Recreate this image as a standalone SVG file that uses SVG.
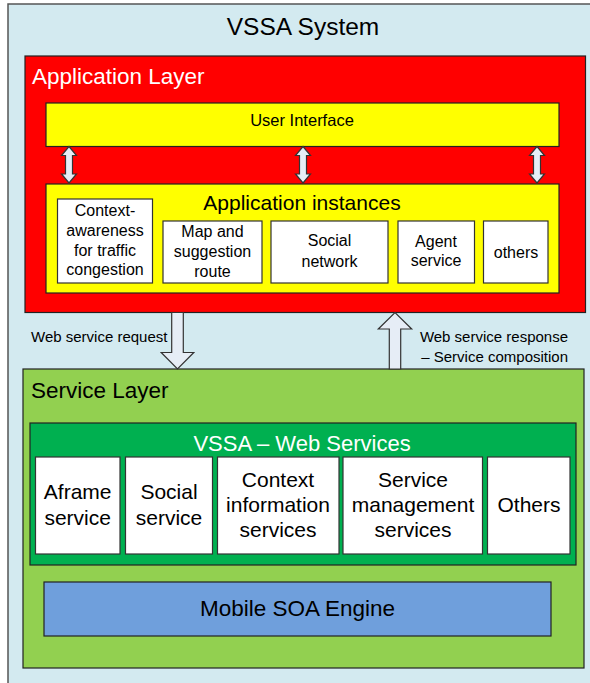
<svg xmlns="http://www.w3.org/2000/svg" width="590" height="683" viewBox="0 0 590 683">
<style>
text{font-family:"Liberation Sans",Arial,sans-serif;fill:#000}
.c{text-anchor:middle}
.box{stroke:#222;stroke-width:1.2}
.wbox{fill:#fff;stroke:#333;stroke-width:1.2}
.arr{fill:#e6edf6;stroke:#333;stroke-width:1.2;stroke-linejoin:miter}
.s16{font-size:16px}
.s21{font-size:21px}
.w{fill:#fff}
</style>
<g id="system">
<rect x="8" y="4" width="600" height="700" fill="#d3eaf0" stroke="#555" stroke-width="1.5"/>
<text class="c" x="303" y="35" font-size="24.5">VSSA System</text>
</g>
<g id="application-layer">
<rect class="box" x="25" y="56" width="560.5" height="256.5" fill="#ff0000"/>
<text class="w" x="32" y="84" font-size="22.5">Application Layer</text>
</g>
<g id="user-interface">
<rect class="box" x="46" y="103" width="513" height="43.5" fill="#ffff00"/>
<text class="c" x="302" y="126" font-size="16.5">User Interface</text>
</g>
<g id="application-instances">
<rect class="box" x="46" y="184" width="513" height="109" fill="#ffff00"/>
<text class="c" x="302" y="210" font-size="21">Application instances</text>
</g>
<g id="app-context">
<rect class="wbox" x="57.5" y="199" width="95" height="84"/>
<text class="c s16" x="105" y="216">Context-</text>
<text class="c s16" x="105" y="236">awareness</text>
<text class="c s16" x="105" y="256">for traffic</text>
<text class="c s16" x="105" y="275">congestion</text>
</g>
<g id="app-map">
<rect class="wbox" x="163" y="221" width="99" height="62"/>
<text class="c s16" x="212.5" y="237">Map and</text>
<text class="c s16" x="212.5" y="257">suggestion</text>
<text class="c s16" x="212.5" y="277">route</text>
</g>
<g id="app-social">
<rect class="wbox" x="271" y="221" width="117" height="62"/>
<text class="c s16" x="329.5" y="246">Social</text>
<text class="c s16" x="329.5" y="267">network</text>
</g>
<g id="app-agent">
<rect class="wbox" x="398" y="221" width="76.5" height="62"/>
<text class="c s16" x="436" y="247">Agent</text>
<text class="c s16" x="436" y="266">service</text>
</g>
<g id="app-others">
<rect class="wbox" x="483.5" y="221" width="64.5" height="62"/>
<text class="c s16" x="516" y="258">others</text>
</g>
<g id="service-layer">
<rect class="box" x="23" y="369" width="561" height="299" fill="#92d050"/>
<text x="31" y="398" font-size="22.5">Service Layer</text>
</g>
<g id="web-services">
<rect class="box" x="30" y="423" width="546" height="142" fill="#00b050"/>
<text class="c w" x="302" y="451" font-size="22">VSSA – Web Services</text>
</g>
<g id="ws-aframe">
<rect class="wbox" x="35.5" y="457" width="84.5" height="97"/>
<text class="c s21" x="77.7" y="499">Aframe</text>
<text class="c s21" x="77.7" y="525">service</text>
</g>
<g id="ws-social">
<rect class="wbox" x="125.5" y="457" width="87" height="97"/>
<text class="c s21" x="169" y="499">Social</text>
<text class="c s21" x="169" y="525">service</text>
</g>
<g id="ws-context">
<rect class="wbox" x="217.5" y="457" width="121.5" height="97"/>
<text class="c s21" x="278" y="487">Context</text>
<text class="c s21" x="278" y="512">information</text>
<text class="c s21" x="278" y="537">services</text>
</g>
<g id="ws-management">
<rect class="wbox" x="343" y="457" width="139.5" height="97"/>
<text class="c s21" x="413" y="487">Service</text>
<text class="c s21" x="413" y="512">management</text>
<text class="c s21" x="413" y="537">services</text>
</g>
<g id="ws-others">
<rect class="wbox" x="487.5" y="457" width="82.5" height="97"/>
<text class="c s21" x="529" y="512">Others</text>
</g>
<g id="mobile-soa">
<rect class="box" x="44" y="582" width="507" height="54" fill="#6f9fdc"/>
<text class="c" x="297.5" y="616" font-size="22.5">Mobile SOA Engine</text>
</g>
<g id="connectors">
<polygon class="arr" points="69,146.5 76.5,155.5 72.5,155.5 72.5,174 76.5,174 69,183 61.5,174 65.5,174 65.5,155.5 61.5,155.5"/>
<polygon class="arr" points="303,146.5 310.5,155.5 306.5,155.5 306.5,174 310.5,174 303,183 295.5,174 299.5,174 299.5,155.5 295.5,155.5"/>
<polygon class="arr" points="537,146.5 544.5,155.5 540.5,155.5 540.5,174 544.5,174 537,183 529.5,174 533.5,174 533.5,155.5 529.5,155.5"/>
<polygon class="arr" points="171.7,312.5 183.3,312.5 183.3,352.5 193.8,352.5 177.5,369 161.2,352.5 171.7,352.5"/>
<polygon class="arr" points="389.3,369 400.7,369 400.7,329 411.7,329 395,312.5 378.3,329 389.3,329"/>
<text x="31" y="342" font-size="15">Web service request</text>
<text x="568" y="342" font-size="15" text-anchor="end">Web service response</text>
<text x="568" y="362" font-size="15" text-anchor="end">– Service composition</text>
</g>
</svg>
